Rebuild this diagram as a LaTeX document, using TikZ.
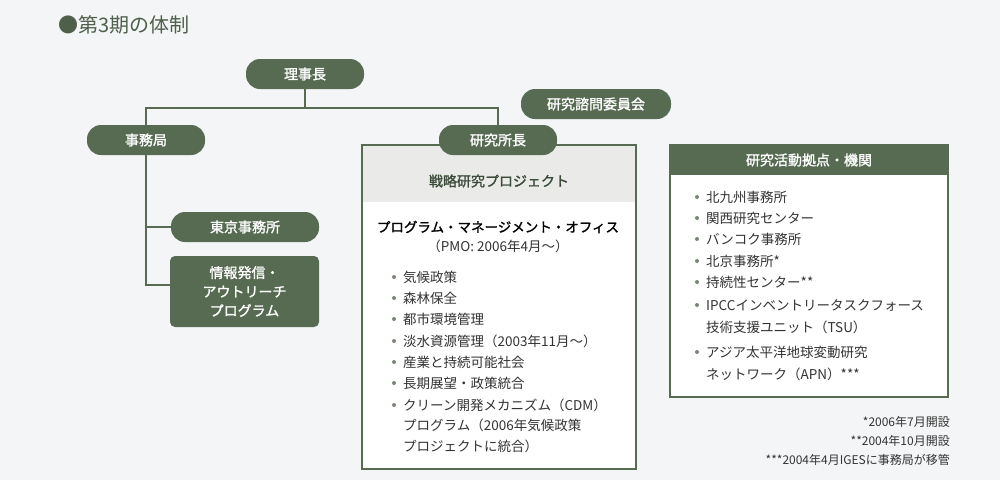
\documentclass[tikz,border=0pt]{standalone}
\usepackage{fontspec}
\setmainfont{Noto Sans CJK JP}
\newfontfamily\jpb{Noto Sans CJK JP}[FakeBold=1.5]
\definecolor{dg}{HTML}{566B52}
\definecolor{bg}{HTML}{F3F5F6}
\definecolor{hd}{HTML}{EAEBE8}
\definecolor{tx}{HTML}{333333}
\begin{document}
\begin{tikzpicture}[x=1pt,y=-1pt,
  pill/.style={fill=dg,rounded corners=14pt,text=white,font=\jpb\fontsize{14}{16}\selectfont,minimum height=30pt,inner sep=0pt},
  ln/.style={draw=dg,line width=1.2pt},
  it/.style={anchor=west,font=\fontsize{13.5}{15}\selectfont,text=tx,inner sep=0pt},
  dot/.style={circle,fill=dg!80,inner sep=0pt,minimum size=4pt},
  fn/.style={anchor=east,font=\fontsize{12}{14}\selectfont,text=tx,inner sep=0pt}]
\fill[bg] (0,0) rectangle (1000,480);
\useasboundingbox (0,0) rectangle (1000,480);
\node[anchor=west,text=dg!90!black,font=\fontsize{20}{22}\selectfont,inner sep=0pt] (title) at (58,25) {●第3期の体制};
% boxes
\fill[white] (362,145) rectangle (636,469);
\fill[hd] (362,145) rectangle (636,202);
\draw[ln] (362,145) rectangle (636,469);
\node[font=\jpb\fontsize{14}{16}\selectfont,text=dg!70!black] (hdr) at (499,181) {戦略研究プロジェクト};
\fill[white] (670,145) rectangle (948,397);
\fill[dg] (670,145) rectangle (948,175);
\draw[ln] (670,145) rectangle (948,397);
\node[font=\jpb\fontsize{14}{16}\selectfont,text=white] (hdr2) at (809,160) {研究活動拠点・機関};
% pills
\node[pill,minimum width=118pt] (chair) at (305,74) {理事長};
\node[pill,minimum width=118pt] (sec) at (146,140) {事務局};
\node[pill,minimum width=118pt] (dir) at (498,140) {研究所長};
\node[pill,minimum width=150pt] (adv) at (596,104) {研究諮問委員会};
\node[pill,minimum width=148pt] (tok) at (245,227) {東京事務所};
\node[pill,minimum width=149pt,minimum height=71pt,rounded corners=5pt,align=center,font=\jpb\fontsize{14}{19}\selectfont] (out) at (244.5,291.5) {情報発信・\\アウトリーチ\\プログラム};
\coordinate (j) at (305,108);
\coordinate (k) at (146,285);
\draw[ln] (chair) -- (j);
\draw[ln] (sec.north) |- (j) -| (dir.north);
\draw[ln] (sec.south) -- (k) -- (k -| out.west);
\draw[ln] (sec.south |- tok.west) -- (tok.west);
% left list
\node[font=\jpb\fontsize{13.5}{15}\selectfont,text=black] (pmo) at (498,227) {プログラム・マネージメント・オフィス};
\node[font=\fontsize{13.5}{15}\selectfont,text=tx] (pmo2) at (498,246) {（PMO: 2006年4月～）};
\foreach \y/\t in {277/気候政策,298/森林保全,319/都市環境管理,341/淡水資源管理（2003年11月～）,362/産業と持続可能社会,383/長期展望・政策統合,405/クリーン開発メカニズム（CDM）}
  {\node[dot] at (394,\y) {}; \node[it] at (403,\y) {\t};}
\node[it] at (403,425) {プログラム（2006年気候政策};
\node[it] at (403,446) {プロジェクトに統合）};
% right list
\foreach \y/\t in {197/北九州事務所,218/関西研究センター,239/バンコク事務所,261/北京事務所*,282/持続性センター**,305/IPCCインベントリータスクフォース,352/アジア太平洋地球変動研究}
  {\node[dot] at (697,\y) {}; \node[it] at (706,\y) {\t};}
\node[it] at (706,327) {技術支援ユニット（TSU）};
\node[it] at (706,374) {ネットワーク（APN）***};
\node[fn] (f1) at (950,422) {*2006年7月開設};
\node[fn] (f2) at (950,441) {**2004年10月開設};
\node[fn] (f3) at (950,460) {***2004年4月IGESに事務局が移管};
\end{tikzpicture}
\end{document}
